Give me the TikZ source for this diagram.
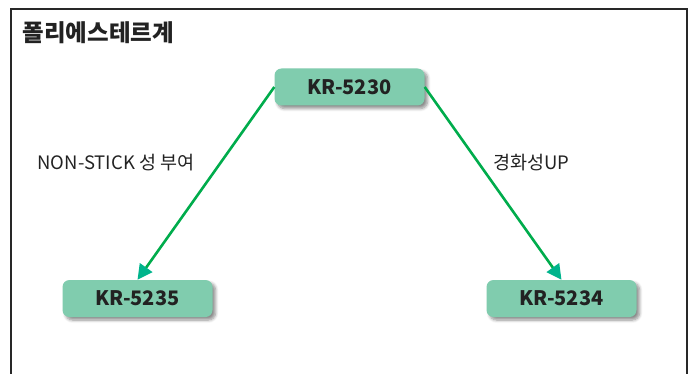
\documentclass[tikz,border=0pt]{standalone}
\usepackage{fontspec}
\setmainfont{Noto Sans CJK KR}
\usetikzlibrary{arrows.meta,shadows.blur}

\definecolor{boxgreen}{RGB}{128,204,174}
\definecolor{linegreen}{RGB}{0,172,76}
\definecolor{tipteal}{RGB}{0,180,140}
\definecolor{framegray}{RGB}{40,40,40}
\definecolor{textgray}{RGB}{34,34,34}

\tikzset{
  grade/.style={fill=boxgreen, rounded corners=7pt, minimum width=150pt,
    minimum height=37pt, text=textgray,
    font=\fontsize{20}{24}\selectfont\bfseries,
    blur shadow={shadow xshift=3pt, shadow yshift=-3pt,
      shadow blur radius=3pt, shadow blur steps=6, shadow opacity=45}},
  route/.style={linegreen, line width=2.6pt,
    -{Triangle[length=15pt, width=15pt, color=tipteal]}},
  note/.style={anchor=west, text=textgray, font=\fontsize{18.5}{22}\selectfont}
}

\begin{document}
\begin{tikzpicture}[x=1pt, y=-1pt]
  \useasboundingbox (0,0) rectangle (695,374);
  \clip (0,0) rectangle (695,374);

  % Frame and title.
  \draw[framegray, line width=2.5pt] (11,9) rectangle (687,400);
  \node[anchor=west, text=textgray, font=\fontsize{23.5}{26}\selectfont\bfseries]
    (title) at (19,33) {폴리에스테르계};

  % Grade boxes.
  \node[grade] (kr5230) at (349.5,87) {KR-5230};
  \node[grade] (kr5235) at (137.5,298.5) {KR-5235};
  \node[grade] (kr5234) at (561.5,298.5) {KR-5234};

  % Arrows.
  \draw[route] (kr5230.west) -- (kr5235.north);
  \draw[route] (kr5230.east) -- (kr5234.north);

  % Arrow labels.
  \node[note] (nonstick) at (34,163) {NON-STICK 성 부여};
  \node[note] (hardness) at (490,163) {경화성UP};

\end{tikzpicture}
\end{document}
